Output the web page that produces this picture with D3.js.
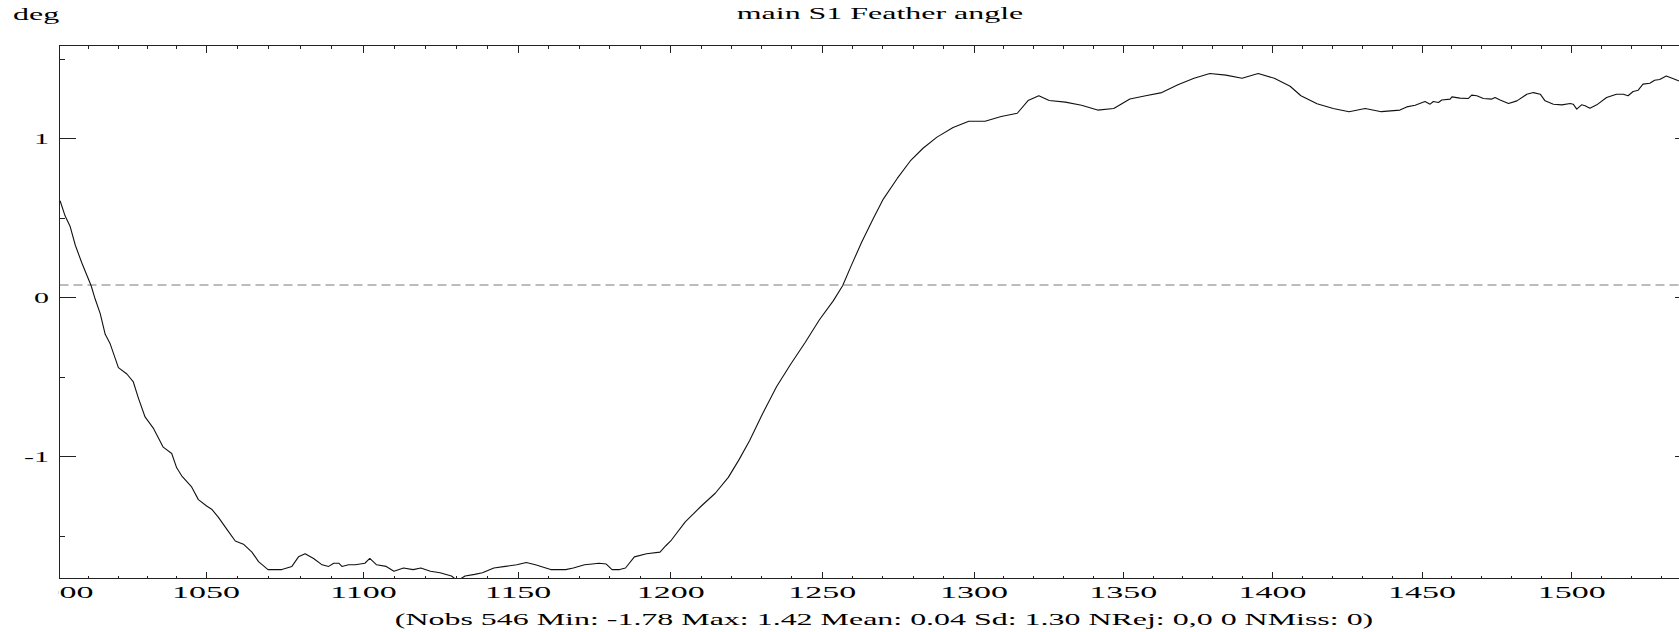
<!DOCTYPE html>
<html>
<head>
<meta charset="utf-8">
<script src="https://cdn.jsdelivr.net/npm/d3@7"></script>
<style>
  body { margin: 0; background: #fff; }
  svg { display: block; }
  text { font-family: "Liberation Serif", "DejaVu Serif", serif; fill: #000; }
</style>
</head>
<body>
<svg id="chart" width="1679" height="632" font-family="Liberation Serif"></svg>
<script>
// series
const obsX = [
  1000.2, 1001.9, 1003.6, 1005.4, 1007.6, 1010.8, 1012.2, 1013.9, 1015.6, 1017.3,
  1020.1, 1023.0, 1025.2, 1026.9, 1029.2, 1032.0, 1035.4, 1038.3, 1040.0, 1041.7,
  1045.1, 1047.4, 1050.2, 1051.8, 1053.9, 1057.1, 1059.3, 1061.9, 1064.6, 1066.7,
  1069.7, 1074.1, 1077.3, 1079.4, 1081.5, 1084.2, 1086.9, 1089.0, 1090.6, 1092.2,
  1093.2, 1095.3, 1097.5, 1100.5, 1102.1, 1104.3, 1107.4, 1109.9, 1113.0, 1116.1,
  1118.6, 1121.7, 1124.8, 1128.5, 1130.4, 1132.9, 1136.0, 1138.5, 1142.2, 1145.9,
  1149.6, 1152.7, 1155.7, 1160.7, 1165.6, 1168.1, 1171.8, 1174.3, 1176.5, 1178.9,
  1180.8, 1183.3, 1185.2, 1188.1, 1192.1, 1196.5, 1198.4, 1200.0, 1204.8, 1210.1,
  1214.7, 1219.0, 1222.5, 1226.0, 1230.3, 1234.9, 1239.5, 1244.4, 1249.0, 1253.6,
  1256.7, 1259.5, 1263.0, 1266.6, 1270.1, 1274.7, 1279.0, 1283.2, 1287.8, 1293.1,
  1298.3, 1303.7, 1309.1, 1314.5, 1318.1, 1321.7, 1325.2, 1330.6, 1336.0, 1341.4,
  1346.8, 1352.2, 1357.5, 1362.9, 1368.3, 1373.7, 1379.0, 1384.4, 1389.8, 1395.2,
  1400.6, 1405.9, 1409.5, 1414.9, 1420.3, 1425.6, 1431.0, 1436.4, 1442.6, 1444.9,
  1447.7, 1451.0, 1452.7, 1453.8, 1455.5, 1456.6, 1459.4, 1460.0, 1462.7, 1465.5,
  1466.6, 1468.3, 1470.5, 1473.3, 1474.4, 1476.1, 1478.9, 1481.7, 1483.9, 1485.0,
  1487.2, 1489.5, 1491.1, 1493.9, 1496.7, 1499.5, 1500.5, 1501.7, 1503.3, 1504.5,
  1506.1, 1508.4, 1511.7, 1515.0, 1517.3, 1518.9, 1520.6, 1522.3, 1523.9, 1526.2,
  1527.8, 1529.5, 1531.7, 1533.9, 1535.8, 1538.0
];
const angle = [
  0.61, 0.515, 0.45, 0.33, 0.22, 0.075, -0.01, -0.10, -0.23, -0.29,
  -0.44, -0.48, -0.53, -0.63, -0.75, -0.82, -0.94, -0.98, -1.07, -1.12,
  -1.19, -1.27, -1.31, -1.33, -1.38, -1.47, -1.53, -1.55, -1.60, -1.66,
  -1.71, -1.71, -1.69, -1.63, -1.61, -1.64, -1.68, -1.69, -1.67, -1.67,
  -1.69, -1.68, -1.68, -1.67, -1.64, -1.68, -1.69, -1.72, -1.70, -1.71,
  -1.70, -1.72, -1.73, -1.75, -1.78, -1.75, -1.74, -1.73, -1.70, -1.69,
  -1.68, -1.665, -1.68, -1.71, -1.71, -1.70, -1.68, -1.675, -1.67, -1.675,
  -1.71, -1.71, -1.70, -1.63, -1.61, -1.60, -1.56, -1.53, -1.41, -1.31,
  -1.23, -1.13, -1.02, -0.90, -0.73, -0.56, -0.42, -0.28, -0.14, -0.02,
  0.075, 0.20, 0.35, 0.49, 0.62, 0.75, 0.86, 0.94, 1.01, 1.07,
  1.11, 1.11, 1.14, 1.16, 1.24, 1.27, 1.24, 1.23, 1.21, 1.18,
  1.19, 1.25, 1.27, 1.29, 1.34, 1.38, 1.41, 1.40, 1.38, 1.41,
  1.38, 1.33, 1.27, 1.22, 1.19, 1.17, 1.19, 1.17, 1.18, 1.20,
  1.21, 1.234, 1.217, 1.234, 1.228, 1.243, 1.249, 1.263, 1.255, 1.253,
  1.274, 1.270, 1.253, 1.249, 1.259, 1.244, 1.221, 1.238, 1.265, 1.280,
  1.290, 1.280, 1.238, 1.217, 1.213, 1.221, 1.217, 1.186, 1.213, 1.207,
  1.192, 1.213, 1.259, 1.280, 1.280, 1.270, 1.297, 1.305, 1.343, 1.349,
  1.368, 1.372, 1.394, 1.378, 1.364, 1.35
];

const xMajor = [1000, 1050, 1100, 1150, 1200, 1250, 1300, 1350, 1400, 1450, 1500];
const xMinor = d3.range(1010, 1540, 10).filter(v => v % 50 !== 0);
const yMajor = [-1, 0, 1];
const yMinor = [-1.5, -0.5, 0.5, 1.5];
const refLevel = 0.08;

const titleText = "main S1 Feather angle";
const unitText = "deg";
const statsText = "(Nobs 546 Min: -1.78 Max: 1.42 Mean: 0.04 Sd: 1.30 NRej: 0,0 0 NMiss: 0)";

// frame (the right edge sits just past the window, like the original)
const fx0 = 59.5, fx1 = 1691, fy0 = 45.5, fy1 = 578.5;
// the original's lettering is stretched sideways
const tickStretch = 2.0, textStretch = 1.88;

// tick spacing in the original is not quite even, so the scale is piecewise
const x = d3.scaleLinear()
  .domain([1000, 1050, 1100, 1150, 1200, 1250, 1300, 1350, 1400, 1450, 1500, 1540])
  .range([fx0, 206, 363.3, 518, 670.7, 822.3, 974, 1123.3, 1272.5, 1422, 1571.7, fx1]);
const y = d3.scaleLinear().domain([-1, 1]).range([456.7, 138.7]);

const svg = d3.select("#chart");
const defs = svg.append("defs");
defs.append("clipPath").attr("id", "plotclip")
  .append("rect").attr("x", fx0).attr("y", fy0).attr("width", fx1 - fx0).attr("height", fy1 - fy0);
defs.append("clipPath").attr("id", "labelclip")
  .append("rect").attr("x", fx0 - 1).attr("y", fy1).attr("width", 1700).attr("height", 40);

// reference level
svg.append("line")
  .attr("x1", fx0).attr("x2", fx1)
  .attr("y1", y(refLevel)).attr("y2", y(refLevel))
  .attr("stroke", "#a6a6a6").attr("stroke-width", 1.4)
  .attr("stroke-dasharray", "9,5");

// curve
const line = d3.line().x((d, i) => x(obsX[i])).y(d => y(d));
svg.append("path")
  .datum(angle)
  .attr("clip-path", "url(#plotclip)")
  .attr("fill", "none")
  .attr("stroke", "#111")
  .attr("stroke-width", 1.1)
  .attr("stroke-linejoin", "round")
  .attr("d", line);

// frame + ticks
const axes = svg.append("g").attr("stroke", "#222").attr("stroke-width", 1).attr("shape-rendering", "crispEdges");
axes.append("rect").attr("x", fx0).attr("y", fy0).attr("width", fx1 - fx0).attr("height", fy1 - fy0).attr("fill", "none");

function xTicks(vals, len) {
  axes.selectAll(null).data(vals).enter().append("line")
    .attr("x1", d => x(d)).attr("x2", d => x(d)).attr("y1", fy1).attr("y2", fy1 - len);
  axes.selectAll(null).data(vals).enter().append("line")
    .attr("x1", d => x(d)).attr("x2", d => x(d)).attr("y1", fy0).attr("y2", fy0 + len);
}
function yTicks(vals, len) {
  axes.selectAll(null).data(vals).enter().append("line")
    .attr("x1", fx0).attr("x2", fx0 + len).attr("y1", d => y(d)).attr("y2", d => y(d));
  axes.selectAll(null).data(vals).enter().append("line")
    .attr("x1", fx1).attr("x2", fx1 - len).attr("y1", d => y(d)).attr("y2", d => y(d));
}
xTicks(xMajor.slice(1), 7);
xTicks(xMinor, 3);
yTicks(yMajor, 16);
yTicks(yMinor, 5);

// tick labels
svg.append("g").attr("clip-path", "url(#labelclip)")
  .selectAll("text").data(xMajor).enter().append("text")
  .attr("transform", d => `translate(${x(d)},598) scale(${tickStretch},1)`)
  .attr("text-anchor", "middle")
  .attr("font-size", 17)
  .text(d => d);

svg.append("g").selectAll("text").data(yMajor).enter().append("text")
  .attr("transform", d => `translate(49,${y(d) + 5}) scale(${tickStretch},1)`)
  .attr("text-anchor", "end")
  .attr("font-size", 15)
  .text(d => d === -1 ? "-1" : d);

// titles
svg.append("text")
  .attr("transform", `translate(13,20) scale(${textStretch},1)`)
  .attr("font-size", 17)
  .text(unitText);

svg.append("text")
  .attr("transform", `translate(880,19) scale(${textStretch},1)`)
  .attr("text-anchor", "middle")
  .attr("font-size", 17)
  .text(titleText);

svg.append("text")
  .attr("transform", `translate(884,625) scale(${textStretch},1)`)
  .attr("text-anchor", "middle")
  .attr("font-size", 17)
  .text(statsText);
</script>
</body>
</html>
